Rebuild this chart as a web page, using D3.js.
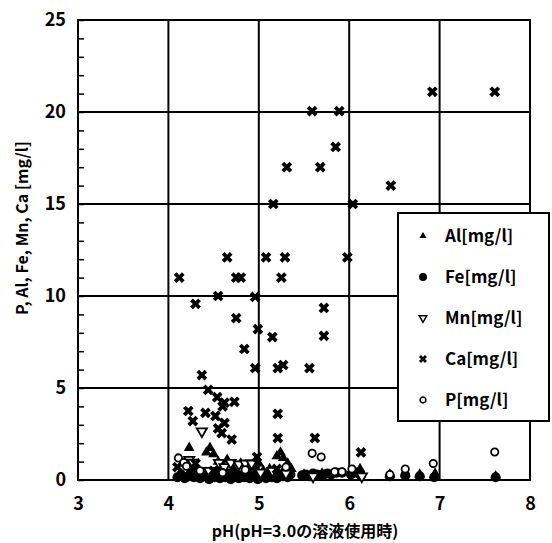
<!DOCTYPE html>
<html lang="ja">

<head>
    <meta charset="UTF-8">
    <title>pH scatter</title>
    <script src="https://d3js.org/d3.v7.min.js"></script>
    <style>
        body { margin: 0; background: #fff; }
        text { font-family: "Noto Sans CJK JP", "Noto Sans", sans-serif; font-weight: bold; fill: #000; }
    </style>
</head>

<body>
    <div id="chart"></div>
    <script>
        // [pH, mg/l]
        const alData = [[4.15, 0.9], [4.23, 1.75], [4.30, 0.7], [4.42, 1.5], [4.46, 1.75], [4.50, 1.4], [4.55, 1.0],
            [4.60, 0.8], [4.65, 1.1], [4.72, 0.6], [4.80, 0.9], [4.88, 0.5], [4.95, 0.7], [5.00, 0.9], [5.05, 0.5],
            [5.12, 0.6], [5.20, 1.3], [5.24, 1.5], [5.27, 1.2], [5.32, 0.9], [5.36, 0.6], [5.50, 0.3], [5.70, 0.35],
            [6.05, 0.5], [6.12, 0.6], [6.45, 0.3], [6.62, 0.35], [6.78, 0.3], [6.95, 0.35], [7.62, 0.2]];
        const feData = [[4.10, 0.15], [4.14, 0.3], [4.18, 0.1], [4.22, 0.2], [4.25, 0.4], [4.28, 0.15], [4.32, 0.25],
            [4.35, 0.1], [4.38, 0.35], [4.42, 0.2], [4.45, 0.05], [4.48, 0.3], [4.51, 0.15], [4.54, 0.4], [4.57, 0.1],
            [4.60, 0.25], [4.63, 0.15], [4.66, 0.35], [4.69, 0.05], [4.72, 0.2], [4.75, 0.3], [4.78, 0.1], [4.81, 0.25],
            [4.84, 0.15], [4.87, 0.35], [4.90, 0.1], [4.93, 0.2], [4.96, 0.3], [4.99, 0.05], [5.02, 0.2], [5.05, 0.35],
            [5.08, 0.1], [5.11, 0.25], [5.14, 0.15], [5.17, 0.4], [5.20, 0.1], [5.23, 0.3], [5.26, 0.2], [5.29, 0.45],
            [5.32, 0.15], [5.35, 0.3], [5.48, 0.25], [5.52, 0.3], [5.56, 0.2], [5.60, 0.35], [5.64, 0.3], [5.68, 0.25],
            [5.72, 0.3], [5.76, 0.35], [5.80, 0.3], [5.86, 0.4], [5.92, 0.4], [6.02, 0.3], [6.08, 0.4], [6.13, 0.25],
            [6.45, 0.2], [6.62, 0.25], [6.78, 0.2], [6.94, 0.15], [7.62, 0.15]];
        const mnData = [[4.37, 2.65], [4.23, 1.1], [4.27, 0.95], [4.56, 0.93], [4.62, 0.7], [4.69, 0.93], [4.78, 0.85],
            [4.85, 0.9], [4.92, 0.9], [5.02, 0.4], [5.15, 0.5], [5.30, 0.35], [5.60, 0.2], [6.14, 0.2], [4.45, 0.5]];
        const caData = [[6.92, 21.1], [7.61, 21.1], [5.59, 20.05], [5.89, 20.05], [5.85, 18.1], [5.31, 17.0], [5.68, 17.0],
            [6.46, 16.0], [5.16, 15.0], [6.04, 15.0], [4.65, 12.1], [5.08, 12.1], [5.29, 12.1], [5.98, 12.1],
            [4.12, 11.0], [4.75, 11.0], [4.80, 11.0], [5.25, 11.0], [4.55, 10.0], [4.96, 9.95], [4.30, 9.57],
            [5.72, 9.35], [4.75, 8.8], [4.99, 8.2], [5.15, 7.77], [5.72, 7.83], [4.84, 7.12], [4.96, 6.08],
            [5.21, 6.08], [5.27, 6.25], [5.56, 6.08], [4.37, 5.7], [4.44, 4.9], [4.54, 4.5], [4.62, 4.2], [4.60, 4.0],
            [4.73, 4.25], [4.22, 3.75], [4.41, 3.65], [4.52, 3.48], [5.21, 3.6], [4.27, 3.2], [4.62, 3.1], [4.59, 2.55],
            [4.55, 2.8], [4.70, 2.2], [5.21, 2.28], [5.62, 2.28], [6.13, 1.5], [4.10, 0.7], [4.98, 1.25], [4.30, 0.9],
            [4.50, 0.5], [5.20, 0.6]];
        const pData = [[4.11, 1.2], [4.17, 0.95], [4.20, 0.75], [4.35, 0.5], [4.60, 0.4], [4.85, 0.55], [5.30, 0.7],
            [5.59, 1.45], [5.69, 1.25], [5.84, 0.45], [5.92, 0.45], [6.03, 0.6], [6.45, 0.3], [6.62, 0.6], [6.93, 0.9],
            [7.61, 1.52]];

        const legendLabels = ["Al[mg/l]", "Fe[mg/l]", "Mn[mg/l]", "Ca[mg/l]", "P[mg/l]"];
        const xTicks = [3, 4, 5, 6, 7, 8];
        const yTicks = [0, 5, 10, 15, 20, 25];

        const margin = { top: 20, right: 22, bottom: 63, left: 78 };
        const width = 552 - margin.left - margin.right;
        const height = 543 - margin.top - margin.bottom;

        const x = d3.scaleLinear().domain([3, 8]).range([0, width]);
        const y = d3.scaleLinear().domain([0, 25]).range([height, 0]);

        const root = d3.select("#chart").append("svg")
            .attr("width", 552)
            .attr("height", 543);

        const svg = root.append("g")
            .attr("transform", "translate(" + margin.left + "," + margin.top + ")");

        // grid
        svg.selectAll(".vgrid").data(xTicks.slice(1, -1)).join("line")
            .attr("x1", d => x(d)).attr("x2", d => x(d))
            .attr("y1", 0).attr("y2", height)
            .attr("stroke", "#000").attr("stroke-width", 2);
        svg.selectAll(".hgrid").data(yTicks.slice(1, -1)).join("line")
            .attr("x1", 0).attr("x2", width)
            .attr("y1", d => y(d)).attr("y2", d => y(d))
            .attr("stroke", "#000").attr("stroke-width", 2);

        // minor ticks on left axis (inside)
        svg.append("g")
            .call(d3.axisRight(y).ticks(25).tickSize(6).tickFormat(""))
            .call(g => g.select(".domain").remove())
            .selectAll("line").attr("stroke-width", 1.5);

        svg.append("rect")
            .attr("width", width).attr("height", height)
            .attr("fill", "none").attr("stroke", "#000").attr("stroke-width", 2);

        // tick labels
        svg.append("g")
            .attr("transform", "translate(0," + height + ")")
            .call(d3.axisBottom(x).tickValues(xTicks).tickFormat(d3.format("d")).tickSize(0).tickPadding(17))
            .call(g => g.select(".domain").remove())
            .selectAll("text").style("font-size", "18px");

        svg.append("g")
            .call(d3.axisLeft(y).tickValues(yTicks).tickSize(0).tickPadding(12))
            .call(g => g.select(".domain").remove())
            .selectAll("text").style("font-size", "18px");

        svg.append("text")
            .attr("x", width / 2 + 1)
            .attr("y", height + 57)
            .attr("text-anchor", "middle")
            .style("font-size", "16px")
            .text("pH(pH=3.0の溶液使用時)");

        svg.append("text")
            .attr("transform", "translate(" + (-50) + "," + (height / 2 - 22) + ") rotate(-90)")
            .attr("text-anchor", "middle")
            .style("font-size", "16px")
            .text("P, Al, Fe, Mn, Ca [mg/l]");

        const triUp = d3.symbol().type(d3.symbolTriangle).size(50);
        const circ = d3.symbol().type(d3.symbolCircle).size(80);
        const triDown = d3.symbol().type(d3.symbolTriangle).size(45);
        const cross = d3.symbol().type(d3.symbolCross).size(72);
        const ring = d3.symbol().type(d3.symbolCircle).size(42);

        const styles = [
            { data: alData, path: triUp(), rot: 0, fill: "#000", stroke: "none" },
            { data: feData, path: circ(), rot: 0, fill: "#000", stroke: "none" },
            { data: mnData, path: triDown(), rot: 180, fill: "#fff", stroke: "#000" },
            { data: caData, path: cross(), rot: 45, fill: "#000", stroke: "none" },
            { data: pData, path: ring(), rot: 0, fill: "#fff", stroke: "#000" }
        ];

        styles.forEach(s => {
            svg.append("g").selectAll("path").data(s.data).join("path")
                .attr("d", s.path)
                .attr("transform", d => "translate(" + x(d[0]) + "," + y(d[1]) + ") rotate(" + s.rot + ")")
                .attr("fill", s.fill)
                .attr("stroke", s.stroke)
                .attr("stroke-width", 1.8);
        });

        // legend
        const legend = root.append("g").attr("transform", "translate(398,213)");
        legend.append("rect")
            .attr("width", 151).attr("height", 208)
            .attr("fill", "#fff").attr("stroke", "#000").attr("stroke-width", 2);

        const legendSyms = [
            { path: d3.symbol().type(d3.symbolTriangle).size(22)(), rot: 0, fill: "#000", stroke: "none" },
            { path: d3.symbol().type(d3.symbolCircle).size(50)(), rot: 0, fill: "#000", stroke: "none" },
            { path: d3.symbol().type(d3.symbolTriangle).size(24)(), rot: 180, fill: "#fff", stroke: "#000" },
            { path: d3.symbol().type(d3.symbolCross).size(40)(), rot: 45, fill: "#000", stroke: "none" },
            { path: d3.symbol().type(d3.symbolCircle).size(26)(), rot: 0, fill: "#fff", stroke: "#000" }
        ];

        legendLabels.forEach((label, i) => {
            const row = legend.append("g").attr("transform", "translate(0," + (23 + i * 41) + ")");
            row.append("path")
                .attr("d", legendSyms[i].path)
                .attr("transform", "translate(25,0) rotate(" + legendSyms[i].rot + ")")
                .attr("fill", legendSyms[i].fill)
                .attr("stroke", legendSyms[i].stroke)
                .attr("stroke-width", 1.5);
            row.append("text")
                .attr("x", 47)
                .attr("dy", "0.35em")
                .style("font-size", "17px")
                .text(label);
        });
    </script>
</body>

</html>
